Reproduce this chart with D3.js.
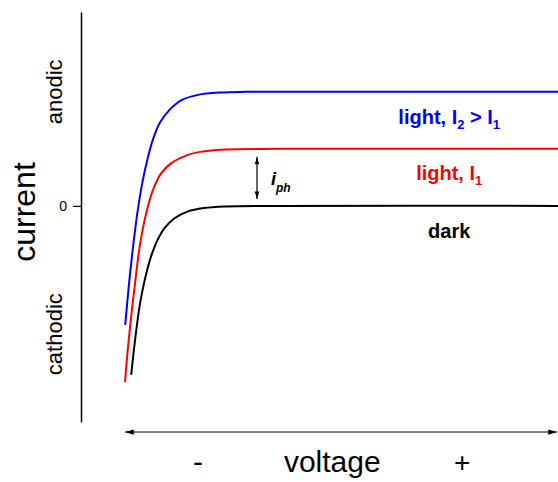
<!DOCTYPE html>
<html>
<head>
<meta charset="utf-8">
<script src="https://cdn.jsdelivr.net/npm/d3@7"></script>
<style>
  body { margin: 0; background: #fff; }
  svg { display: block; font-family: "Liberation Sans", Arial, sans-serif; }
</style>
</head>
<body>
<div id="chart"></div>
<script>
// voltage in arbitrary units (0 = most negative end of the sweep), current in units of i_ph
const darkV   = [1.44, 2.40, 3.44, 4.49, 5.63, 6.47, 7.58, 9.19, 11.51, 14.53, 18.37, 23.26, 36, 101];
const darkI   = [-2.965, -2.316, -1.737, -1.333, -0.991, -0.798, -0.596, -0.391, -0.216, -0.100, -0.038, -0.01, 0, 0];
const light1V = [0, 0.53, 1.30, 2.21, 3.14, 4.09, 5.30, 6.51, 8.44, 10.77, 14.65, 17.44, 23.26, 36, 101];
const light1I = [-3.088, -2.614, -2.035, -1.439, -0.860, -0.421, -0.018, 0.281, 0.574, 0.749, 0.895, 0.947, 0.99, 1.0, 1.0];
const light2V = [0.05, 0.47, 0.98, 1.63, 2.86, 4.07, 5.42, 6.58, 8.14, 10.35, 13.26, 16.98, 22.09, 28, 40, 101];
const light2I = [-2.088, -1.737, -1.333, -0.877, -0.132, 0.421, 0.877, 1.184, 1.463, 1.684, 1.860, 1.947, 1.988, 2.0, 2.0, 2.0];

const seriesNames  = ["dark", "light1", "light2"];
const seriesColors = ["#000000", "#ff0000", "#0000ff"];
const yTickValues  = [0];
const yTickLabels  = ["0"];

const width = 558, height = 482;

const svg = d3.select("#chart").append("svg")
  .attr("width", width)
  .attr("height", height);

const x = d3.scaleLinear().domain([0, 100]).range([125, 555]);
const y = d3.scaleLinear().domain([-3.79, 3.40]).range([422, 12]);

// arrow heads
const defs = svg.append("defs");
defs.append("marker")
  .attr("id", "head")
  .attr("viewBox", "0 -4 10 8")
  .attr("refX", 10).attr("refY", 0)
  .attr("markerUnits", "userSpaceOnUse")
  .attr("markerWidth", 10).attr("markerHeight", 7)
  .attr("orient", "auto-start-reverse")
  .append("path").attr("d", "M0,-3L10,0L0,3Z").attr("fill", "#000");
defs.append("marker")
  .attr("id", "headSmall")
  .attr("viewBox", "0 -4 10 8")
  .attr("refX", 10).attr("refY", 0)
  .attr("markerUnits", "userSpaceOnUse")
  .attr("markerWidth", 8).attr("markerHeight", 6)
  .attr("orient", "auto-start-reverse")
  .append("path").attr("d", "M0,-3L10,0L0,3Z").attr("fill", "#000");

// y axis
const yAxis = d3.axisLeft(y)
  .tickValues(yTickValues)
  .tickFormat((d, i) => yTickLabels[i])
  .tickSize(8)
  .tickSizeOuter(0)
  .tickPadding(6);

const gy = svg.append("g")
  .attr("transform", "translate(81,0)")
  .call(yAxis);
gy.select(".domain").attr("stroke", "#000").attr("stroke-width", 1.5);
gy.selectAll(".tick line").attr("stroke", "#000").attr("stroke-width", 1.2);
gy.selectAll(".tick text")
  .attr("font-size", 14)
  .attr("font-family", "'Liberation Sans', Arial, sans-serif")
  .attr("fill", "#000");

// y labels
svg.append("text")
  .attr("transform", "translate(62," + y(2.0) + ") rotate(-90)")
  .attr("text-anchor", "middle")
  .attr("font-size", 22)
  .text("anodic");
svg.append("text")
  .attr("transform", "translate(62," + y(-2.25) + ") rotate(-90)")
  .attr("text-anchor", "middle")
  .attr("font-size", 22)
  .text("cathodic");
svg.append("text")
  .attr("transform", "translate(35,212) rotate(-90)")
  .attr("text-anchor", "middle")
  .attr("font-size", 32)
  .text("current");

// voltage arrow
const arrowY = 432;
svg.append("line")
  .attr("x1", x(0)).attr("x2", x(100) + 2)
  .attr("y1", arrowY).attr("y2", arrowY)
  .attr("stroke", "#000").attr("stroke-width", 1)
  .attr("marker-start", "url(#head)")
  .attr("marker-end", "url(#head)");

svg.append("text").attr("x", x(17)).attr("y", 472)
  .attr("text-anchor", "middle").attr("font-size", 30).text("-");
svg.append("text").attr("x", x(48.2)).attr("y", 472)
  .attr("text-anchor", "middle").attr("font-size", 30).text("voltage");
svg.append("text").attr("x", x(78.4)).attr("y", 472)
  .attr("text-anchor", "middle").attr("font-size", 28).text("+");

// curves
const line = d3.line()
  .x(d => x(d[0]))
  .y(d => y(d[1]))
  .curve(d3.curveCatmullRom.alpha(0.5));

const series = [
  d3.zip(darkV, darkI),
  d3.zip(light1V, light1I),
  d3.zip(light2V, light2I)
];

svg.append("g").selectAll("path")
  .data(series)
  .join("path")
  .attr("class", (d, i) => seriesNames[i])
  .attr("d", line)
  .attr("fill", "none")
  .attr("stroke", (d, i) => seriesColors[i])
  .attr("stroke-width", 2);

// curve labels
const labelX = x(75.4);
const lab2 = svg.append("text")
  .attr("x", labelX).attr("y", y(2) + 32)
  .attr("text-anchor", "middle")
  .attr("font-size", 20).attr("font-weight", "bold")
  .attr("fill", seriesColors[2]);
lab2.append("tspan").text("light, I");
lab2.append("tspan").attr("font-size", 13).attr("dy", 5).text("2");
lab2.append("tspan").attr("dy", -5).text(" > I");
lab2.append("tspan").attr("font-size", 13).attr("dy", 5).text("1");

const lab1 = svg.append("text")
  .attr("x", labelX).attr("y", y(1) + 31)
  .attr("text-anchor", "middle")
  .attr("font-size", 20).attr("font-weight", "bold")
  .attr("fill", seriesColors[1]);
lab1.append("tspan").text("light, I");
lab1.append("tspan").attr("font-size", 13).attr("dy", 5).text("1");

svg.append("text")
  .attr("x", labelX).attr("y", y(0) + 32)
  .attr("text-anchor", "middle")
  .attr("font-size", 20).attr("font-weight", "bold")
  .attr("fill", seriesColors[0])
  .text("dark");

// photocurrent arrow
const phX = 257;
svg.append("line")
  .attr("x1", phX).attr("x2", phX)
  .attr("y1", y(1) + 8).attr("y2", y(0) - 7)
  .attr("stroke", "#000").attr("stroke-width", 1.2)
  .attr("marker-start", "url(#headSmall)")
  .attr("marker-end", "url(#headSmall)");

const iph = svg.append("text")
  .attr("x", 271).attr("y", 185)
  .attr("font-size", 18).attr("font-weight", "bold").attr("font-style", "italic");
iph.append("tspan").text("i");
iph.append("tspan").attr("font-size", 12).attr("dy", 7).text("ph");
</script>
</body>
</html>
